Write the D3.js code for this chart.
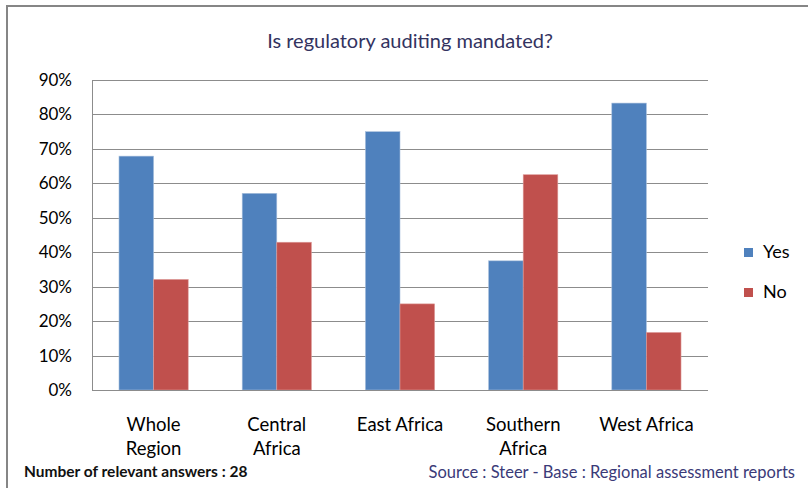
<!DOCTYPE html>
<html>
<head>
<meta charset="utf-8">
<script src="https://cdn.jsdelivr.net/npm/d3@7"></script>
<style>
  body { margin: 0; background: #fff; }
  svg { display: block; font-family: Lato, "Open Sans", sans-serif; }
</style>
</head>
<body>
<div id="chart"></div>
<script>
const categories = ["Whole Region", "Central Africa", "East Africa", "Southern Africa", "West Africa"];
const categoryLines = [["Whole", "Region"], ["Central", "Africa"], ["East Africa"], ["Southern", "Africa"], ["West Africa"]];
const seriesNames = ["Yes", "No"];
const yesValues = [0.679, 0.571, 0.75, 0.375, 0.833];
const noValues = [0.321, 0.429, 0.25, 0.625, 0.167];
const yTicks = [0, 0.1, 0.2, 0.3, 0.4, 0.5, 0.6, 0.7, 0.8, 0.9];
const colors = ["#4F81BD", "#C0504D"];

const width = 808, height = 488;
const margin = { top: 80, right: 100, bottom: 98, left: 92 };

const svg = d3.select('#chart').append('svg')
    .attr('width', width)
    .attr('height', height);

// outer frame (only top and left edges are visible in the original)
svg.append('path')
    .attr('d', `M7,${height} V6 H${width}`)
    .attr('fill', 'none')
    .attr('stroke', '#868686')
    .attr('stroke-width', 2);

const x = d3.scaleBand()
    .domain(categories)
    .range([margin.left, width - margin.right]);

const xInner = d3.scaleBand()
    .domain(seriesNames)
    .range([0, x.bandwidth()])
    .paddingInner(0)
    .paddingOuter(0.78);

const y = d3.scaleLinear()
    .domain([0, 0.9])
    .range([height - margin.bottom, margin.top]);

// gridlines
svg.append('g')
    .selectAll('line')
    .data(yTicks.slice(1))
    .enter().append('line')
    .attr('x1', margin.left)
    .attr('x2', width - margin.right)
    .attr('y1', d => Math.round(y(d)) + 0.5)
    .attr('y2', d => Math.round(y(d)) + 0.5)
    .attr('stroke', '#8c8c8c')
    .attr('stroke-width', 1.2);

// y axis
const yAxis = svg.append('g')
    .attr('transform', `translate(${margin.left},0)`)
    .call(d3.axisLeft(y).tickValues(yTicks).tickFormat(d3.format('.0%')).tickSize(0).tickPadding(20));
yAxis.select('.domain').attr('stroke', '#8c8c8c');
yAxis.selectAll('text')
    .attr('font-size', 17)
    .attr('fill', '#000')
    .attr('font-family', 'Lato, sans-serif');

// bars
const rows = categories.map((c, i) => ({ category: c, values: [yesValues[i], noValues[i]] }));
const groups = svg.append('g')
    .selectAll('g')
    .data(rows)
    .enter().append('g')
    .attr('transform', d => `translate(${x(d.category)},0)`);

groups.selectAll('rect')
    .data(d => d.values.map((v, j) => ({ series: seriesNames[j], value: v, j })))
    .enter().append('rect')
    .attr('x', d => xInner(d.series))
    .attr('width', xInner.bandwidth())
    .attr('y', d => y(d.value))
    .attr('height', d => y(0) - y(d.value))
    .attr('fill', d => colors[d.j])
    .attr('stroke', d => d.j === 0 ? '#a9c0dd' : '#dd9a98')
    .attr('stroke-width', 0.6);

// x axis line
svg.append('line')
    .attr('x1', margin.left)
    .attr('x2', width - margin.right)
    .attr('y1', y(0) + 0.5)
    .attr('y2', y(0) + 0.5)
    .attr('stroke', '#8c8c8c')
    .attr('stroke-width', 1.2);

// category labels
const catLabels = svg.append('g')
    .selectAll('text')
    .data(categories)
    .enter().append('text')
    .attr('x', d => x(d) + x.bandwidth() / 2)
    .attr('y', y(0) + 41)
    .attr('text-anchor', 'middle')
    .attr('font-size', 18.5)
    .attr('fill', '#000');
catLabels.each(function(d, i) {
    d3.select(this).selectAll('tspan')
        .data(categoryLines[i])
        .enter().append('tspan')
        .attr('x', x(d) + x.bandwidth() / 2)
        .attr('dy', (t, k) => k === 0 ? 0 : 24)
        .text(t => t);
});

// title
svg.append('text')
    .attr('x', 410)
    .attr('y', 48)
    .attr('text-anchor', 'middle')
    .attr('font-size', 20)
    .attr('fill', '#333360')
    .text('Is regulatory auditing mandated?');

// legend
const legend = svg.append('g')
    .selectAll('g')
    .data(seriesNames)
    .enter().append('g')
    .attr('transform', (d, i) => `translate(744,${248 + i * 40})`);
legend.append('rect')
    .attr('width', 9)
    .attr('height', 9)
    .attr('fill', (d, i) => colors[i]);
legend.append('text')
    .attr('x', 19)
    .attr('y', 10)
    .attr('font-size', 18)
    .attr('fill', '#000')
    .text(d => d);

// footer notes
svg.append('text')
    .attr('x', 24)
    .attr('y', 477)
    .attr('font-size', 15.5)
    .attr('font-weight', 'bold')
    .attr('fill', '#111')
    .text('Number of relevant answers : 28');

svg.append('text')
    .attr('x', 795)
    .attr('y', 478)
    .attr('text-anchor', 'end')
    .attr('font-size', 16.5)
    .attr('fill', '#3a3a78')
    .text('Source : Steer - Base : Regional assessment reports');
</script>
</body>
</html>
